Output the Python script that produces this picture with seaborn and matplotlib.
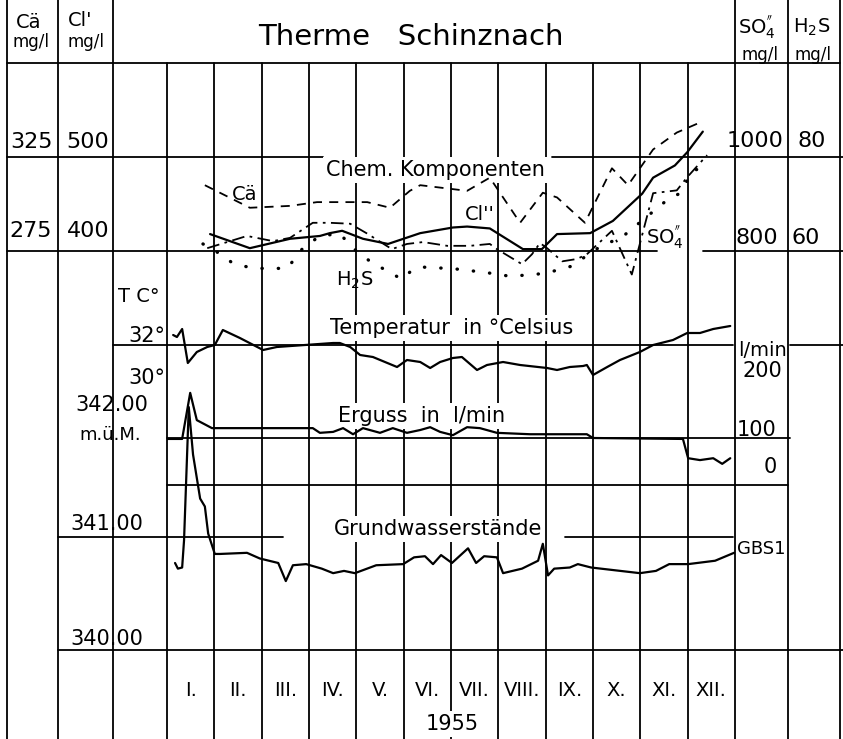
import seaborn as sns
import matplotlib.pyplot as plt
import numpy as np
import pandas as pd

sns.set_theme(style="white")
plt.rcParams['font.family'] = ['DejaVu Sans']
plt.rcParams['mathtext.fontset'] = 'dejavusans'

# months since 1 Jan 1955 (0..12) and the read-off values
ca_month = [0.80, 1.75, 2.60, 3.17, 4.23, 4.71, 5.13, 5.35, 6.34, 6.82, 7.46, 7.94, 8.24, 8.83, 9.40, 9.74, 10.27, 10.77, 11.32]
ca_val = [310, 298, 299, 301, 301, 298, 307, 310, 307, 314, 290, 306, 303.5, 290, 319, 310, 329, 338, 344]

cl_month = [0.91, 1.75, 2.60, 3.23, 3.44, 3.70, 4.14, 4.67, 5.35, 6.04, 6.34, 6.82, 7.52, 7.92, 8.24, 8.94, 9.42, 10.04, 10.27, 10.73, 10.99, 11.32]
cl_val = [418, 403, 413, 416, 419, 421.5, 413, 407.5, 419, 425, 426, 424, 402, 402, 418, 419, 432, 461, 478, 491, 505, 527]

so4_month = [0.85, 1.69, 2.24, 2.60, 3.08, 3.44, 3.87, 4.23, 4.75, 5.07, 5.41, 5.92, 6.40, 6.82, 6.97, 7.50, 7.71, 7.88, 8.03, 8.35, 8.66, 8.87, 9.40, 9.82, 10.27, 10.77, 10.99, 11.41]
so4_val = [806, 832, 821, 828, 860, 860, 858, 837, 804, 815, 819, 811, 811, 815, 804, 772, 793, 817, 806, 778, 783, 793, 843, 750, 923, 929, 957, 1004]

h2s_month = [0.76, 1.12, 1.39, 1.82, 2.54, 2.87, 3.23, 3.65, 3.93, 4.29, 4.96, 5.13, 5.35, 5.92, 6.19, 6.97, 7.25, 7.84, 8.09, 8.37, 8.56, 9.00, 9.30, 9.57, 10.56, 10.84, 11.11, 11.37]
h2s_val = [61.5, 59.4, 57.4, 56.3, 56.3, 60.6, 63.2, 63.7, 60.6, 57.8, 54.0, 55.5, 56.6, 56.3, 56.1, 55.1, 54.6, 55.1, 55.5, 56.3, 56.8, 60.0, 61.7, 62.6, 70.8, 72.3, 77.2, 77.6]

temp_month = [0.13, 0.21, 0.32, 0.44, 0.63, 0.85, 1.01, 1.18, 1.54, 2.03, 2.32, 3.51, 3.65, 3.87, 4.08, 4.35, 4.86, 5.07, 5.35, 5.56, 5.77, 6.04, 6.23, 6.55, 6.76, 7.10, 7.46, 8.03, 8.24, 8.51, 8.79, 8.87, 9.00, 9.30, 9.57, 9.99, 10.27, 10.69, 10.99, 11.26, 11.54, 11.90]
temp_val = [32.5, 32.4, 32.8, 31.1, 31.65, 31.9, 32.0, 32.75, 32.35, 31.75, 31.9, 32.1, 32.1, 31.9, 31.5, 31.4, 30.9, 31.25, 31.15, 30.85, 31.15, 31.35, 31.4, 30.75, 31.0, 31.15, 31.0, 30.85, 30.75, 30.9, 30.95, 31.0, 30.5, 30.9, 31.25, 31.65, 32.0, 32.25, 32.6, 32.6, 32.8, 32.95]

flow_month = [0.0, 0.32, 0.49, 0.63, 0.95, 1.39, 3.08, 3.23, 3.51, 3.72, 3.93, 4.14, 4.50, 4.77, 5.07, 5.35, 5.56, 5.77, 6.04, 6.34, 6.61, 6.97, 7.67, 8.87, 9.00, 10.90, 11.01, 11.26, 11.54, 11.73, 11.90]
flow_val = [98, 98, 196, 138, 121, 121, 121, 111, 113, 121, 108, 121, 111, 121, 111, 117, 123, 113, 106, 123, 121, 111, 108, 108, 100, 98, 57, 53, 57, 45, 57]

gw_month = [0.17, 0.23, 0.32, 0.36, 0.46, 0.55, 0.70, 0.80, 0.87, 1.01, 1.12, 1.69, 1.96, 2.35, 2.51, 2.66, 2.94, 3.27, 3.51, 3.74, 3.97, 4.42, 4.99, 5.22, 5.45, 5.62, 5.79, 6.02, 6.36, 6.53, 6.70, 6.97, 7.10, 7.50, 7.84, 7.94, 8.05, 8.18, 8.51, 8.68, 8.96, 9.99, 10.33, 10.61, 11.01, 11.58, 11.98]
gw_val = [340.77, 340.72, 340.73, 340.97, 342.15, 341.73, 341.34, 341.27, 341.03, 340.85, 340.85, 340.86, 340.81, 340.77, 340.61, 340.75, 340.76, 340.72, 340.68, 340.70, 340.68, 340.75, 340.76, 340.82, 340.83, 340.76, 340.84, 340.77, 340.90, 340.77, 340.83, 340.82, 340.68, 340.72, 340.79, 340.94, 340.66, 340.72, 340.73, 340.76, 340.73, 340.68, 340.70, 340.76, 340.76, 340.79, 340.86]

month_labels = ['I.', 'II.', 'III.', 'IV.', 'V.', 'VI.', 'VII.', 'VIII.', 'IX.', 'X.', 'XI.', 'XII.']

W, H = 843, 739
X0, X1 = 167, 735            # pixel span of the twelve month columns
MW = (X1 - X0) / 12

fig = plt.figure(figsize=(W / 100, H / 100), dpi=100)
fig.patch.set_facecolor('white')

# frame axes in pixel units for the table and the lettering
ax0 = fig.add_axes([0, 0, 1, 1])
ax0.set_xlim(0, W)
ax0.set_ylim(H, 0)
ax0.axis('off')

lw_grid = 1.3
def hline(y, x_a, x_b):
    ax0.plot([x_a, x_b], [y, y], color='black', lw=lw_grid, zorder=1)

def vline(x, y_a, y_b):
    ax0.plot([x, x], [y_a, y_b], color='black', lw=lw_grid, zorder=1)

for x in [7, 58, 113, X1, 788, 840]:
    vline(x, 0, H)
for i in range(12):
    vline(X0 + i * MW, 63, H)

hline(63, 7, 840)
hline(157, 7, 323)
hline(157, 552, 843)
hline(251, 7, 657)
hline(251, 703, 843)
hline(345, 113, 733)
hline(345, 790, 843)
hline(438, X0, 790)
hline(485, X0, 788)
hline(537, 58, 283)
hline(537, 565, 733)
hline(650, 58, 843)

wb = dict(facecolor='white', edgecolor='none', pad=2)
def label(x, y, s, size=15, ha='center', box=None):
    ax0.text(x, y, s, ha=ha, va='center', fontsize=size, color='black', bbox=box, zorder=3)

label(411, 37, 'Therme   Schinznach', size=21)
label(29, 22, 'Cä', size=14)
label(31, 42, 'mg/l', size=12)
label(80, 20, "Cl'", size=14)
label(86, 42, 'mg/l', size=12)
label(757, 27, r"SO$_4^{''}$", size=14)
label(760, 55, 'mg/l', size=12)
label(812, 27, r"H$_2$S", size=14)
label(813, 55, 'mg/l', size=12)

label(31, 142, '325', size=16)
label(88, 142, '500', size=16)
label(31, 231, '275', size=16)
label(88, 231, '400', size=16)
label(755, 141, '1000', size=16)
label(812, 141, '80', size=16)
label(757, 238, '800', size=16)
label(806, 238, '60', size=16)

label(139, 297, 'T C°', size=14)
label(147, 336, '32°', size=15)
label(147, 378, '30°', size=15)
label(112, 405, '342.00', size=15)
label(110, 435, 'm.ü.M.', size=13)
label(107, 524, '341.00', size=15)
label(107, 639, '340.00', size=15)

label(763, 351, 'l/min', size=14)
label(762, 371, '200', size=15)
label(757, 430, '100', size=15)
label(770, 467, '0', size=15)
label(761, 549, 'GBS1', size=13)

label(435, 170, 'Chem. Komponenten', size=15, box=wb)
label(452, 328, 'Temperatur  in °Celsius', size=15, box=wb)
label(422, 416, 'Erguss  in  l/min', size=15, box=wb)
label(438, 529, 'Grundwasserstände', size=15, box=wb)
label(245, 195, 'Cä', size=14)
label(480, 215, "Cl''", size=14)
label(665, 237, r"SO$_4^{''}$", size=14)
label(355, 280, r"H$_2$S", size=14)

for i, s in enumerate(month_labels):
    label(X0 + (i + 0.5) * MW, 690, s, size=14)
label(452, 724, '1955', size=15, box=wb)


def overlay(px_a, v_a, px_b, v_b):
    # transparent axes over the month columns, value scale pinned to two pixel rows
    ax = fig.add_axes([X0 / W, 0, (X1 - X0) / W, 1])
    slope = (v_b - v_a) / (px_b - px_a)
    ax.set_ylim(v_a + (H - px_a) * slope, v_a - px_a * slope)
    ax.set_xlim(0, 12)
    ax.axis('off')
    ax.patch.set_alpha(0)
    return ax

ax_ca = overlay(157, 325, 251, 275)
ax_cl = overlay(157, 500, 251, 400)
ax_so4 = overlay(157, 1000, 251, 800)
ax_h2s = overlay(157, 80, 251, 60)
ax_t = overlay(345, 32, 385, 30)
ax_q = overlay(485, 0, 438, 100)
ax_gw = overlay(650, 340, 537, 341)

def curve(ax, xs, ys, **kw):
    df = pd.DataFrame({'month': xs, 'value': ys})
    sns.lineplot(data=df, x='month', y='value', ax=ax, color='black',
                 estimator=None, sort=False, legend=False, **kw)
    ax.axis('off')

curve(ax_ca, ca_month, ca_val, lw=1.3, linestyle=(0, (5, 4)))
curve(ax_cl, cl_month, cl_val, lw=1.6)
curve(ax_so4, so4_month, so4_val, lw=1.3, linestyle=(0, (7, 3, 1.5, 3)))
curve(ax_h2s, h2s_month, h2s_val, lw=2.4, linestyle=(0, (0.1, 4.8)), dash_capstyle='round')
curve(ax_t, temp_month, temp_val, lw=1.6)
curve(ax_q, flow_month, flow_val, lw=1.6)
curve(ax_gw, gw_month, gw_val, lw=1.6)

fig.savefig('out.png', dpi=100, facecolor='white')
